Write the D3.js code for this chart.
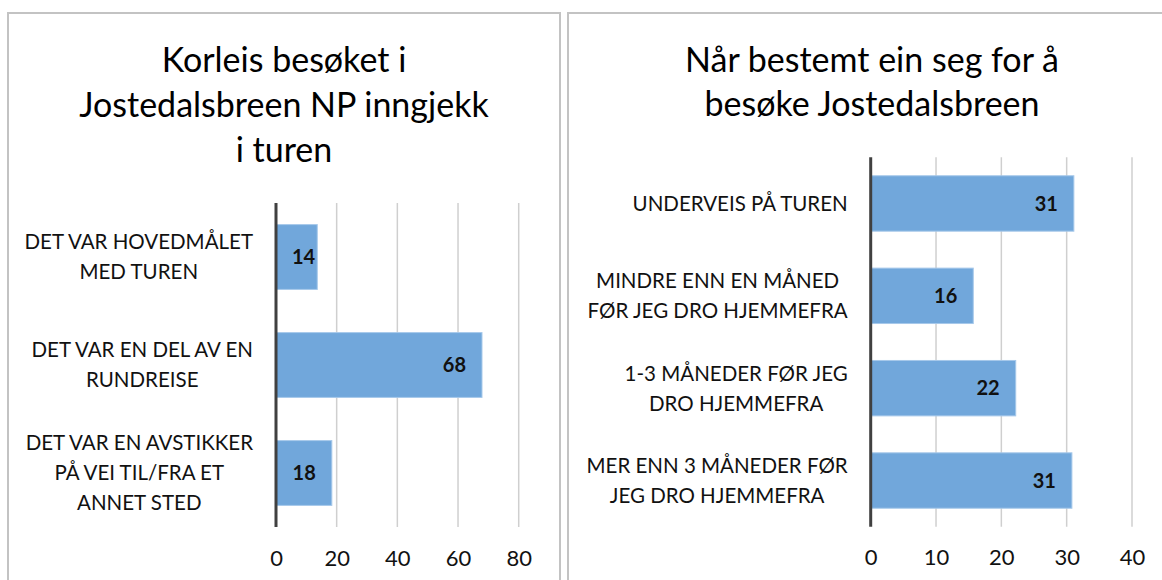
<!DOCTYPE html>
<html>
<head>
<meta charset="utf-8">
<script src="https://d3js.org/d3.v7.min.js"></script>
<style>
  body { margin: 0; background: #fff; }
  text { font-family: Lato, "Open Sans", sans-serif; }
</style>
</head>
<body>
<div id="mainer"></div>
<script>
// left chart
let leftTitle = ["Korleis besøket i", "Jostedalsbreen NP inngjekk", "i turen"];
let leftCats = [
  ["DET VAR HOVEDMÅLET", "MED TUREN"],
  ["DET VAR EN DEL AV EN", "RUNDREISE"],
  ["DET VAR EN AVSTIKKER", "PÅ VEI TIL/FRA ET", "ANNET STED"]
];
let leftValues = [13.6, 67.9, 18.4];
let leftTicks = [0, 20, 40, 60, 80];

// right chart
let rightTitle = ["Når bestemt ein seg for å", "besøke Jostedalsbreen"];
let rightCats = [
  ["UNDERVEIS PÅ TUREN"],
  ["MINDRE ENN EN MÅNED", "FØR JEG DRO HJEMMEFRA"],
  ["1-3 MÅNEDER FØR JEG", "DRO HJEMMEFRA"],
  ["MER ENN 3 MÅNEDER FØR", "JEG DRO HJEMMEFRA"]
];
let rightValues = [31.1, 15.7, 22.2, 30.8];
let rightTicks = [0, 10, 20, 30, 40];

let width = 1162;
let height = 580;
let svg = d3.select("#mainer")
  .append("svg")
  .attr("width", width)
  .attr("height", height);

// panel frames
svg.append("rect")
  .attr("x", 8).attr("y", 13).attr("width", 552).attr("height", 620)
  .attr("fill", "none").attr("stroke", "#c3c3c3").attr("stroke-width", 2);
svg.append("rect")
  .attr("x", 568).attr("y", 13).attr("width", 640).attr("height", 620)
  .attr("fill", "none").attr("stroke", "#c3c3c3").attr("stroke-width", 2);

function drawChart(cfg) {
  let g = svg.append("g");
  let x = d3.scaleLinear().domain([0, cfg.ticks[cfg.ticks.length - 1]]).range([cfg.x0, cfg.x1]);
  let y = d3.scaleBand().domain(d3.range(cfg.cats.length)).range([cfg.y0, cfg.y1]).paddingInner(0.4).paddingOuter(0.2);

  // title
  g.append("text")
    .attr("text-anchor", "middle")
    .attr("font-size", 34)
    .attr("fill", "#000")
    .selectAll("tspan")
    .data(cfg.title)
    .join("tspan")
    .attr("x", cfg.titleX)
    .attr("y", (d, i) => cfg.titleY + i * cfg.titleStep)
    .text(d => d);

  // gridlines
  g.selectAll(".grid")
    .data(cfg.ticks.slice(1))
    .join("line")
    .attr("x1", d => x(d)).attr("x2", d => x(d))
    .attr("y1", cfg.y0).attr("y2", cfg.y1)
    .attr("stroke", "#cfcfcf").attr("stroke-width", 1.5);

  // x axis labels
  let xAxis = d3.axisBottom(x).tickValues(cfg.ticks).tickSize(0).tickPadding(0);
  let ax = g.append("g")
    .attr("transform", `translate(0,${cfg.y1 + 31})`)
    .call(xAxis);
  ax.select(".domain").remove();
  ax.selectAll("text")
    .attr("font-size", 22)
    .attr("font-family", "Lato, sans-serif")
    .attr("fill", "#111")
    .attr("dy", "0.35em")
    .attr("y", 0);

  // bars
  g.selectAll(".bar")
    .data(cfg.values)
    .join("rect")
    .attr("x", x(0))
    .attr("y", (d, i) => y(i))
    .attr("width", d => x(d) - x(0))
    .attr("height", y.bandwidth())
    .attr("fill", "#71a7db")
    .attr("stroke", "#a6c8ea")
    .attr("stroke-width", 1);

  // value labels
  g.selectAll(".val")
    .data(cfg.values)
    .join("text")
    .attr("text-anchor", "end")
    .attr("font-size", 20)
    .attr("font-weight", "bold")
    .attr("fill", "#111")
    .attr("dy", "0.36em")
    .attr("y", (d, i) => y(i) + y.bandwidth() / 2)
    .text(d => d3.format(".0f")(d))
    .attr("x", function(d) {
      let w = this.getComputedTextLength();
      return Math.max(x(d) - 16, x(0) + w + 16);
    });

  // category labels, lines centred inside a right-aligned block
  let lineH = 30;
  cfg.cats.forEach(function(lines, i) {
    let t = g.append("text")
      .attr("text-anchor", "middle")
      .attr("font-size", 20.5)
      .attr("fill", "#111");
    let cy = y(i) + y.bandwidth() / 2;
    let spans = t.selectAll("tspan")
      .data(lines)
      .join("tspan")
      .attr("y", (d, j) => cy + (j - (lines.length - 1) / 2) * lineH)
      .attr("dy", "0.36em")
      .text(d => d);
    let maxW = d3.max(spans.nodes(), n => n.getComputedTextLength());
    spans.attr("x", cfg.x0 - 23 - maxW / 2);
  });

  // vertical axis line
  g.append("line")
    .attr("x1", x(0)).attr("x2", x(0))
    .attr("y1", cfg.y0).attr("y2", cfg.y1)
    .attr("stroke", "#404040").attr("stroke-width", 3);
}

drawChart({
  title: leftTitle, titleX: 284, titleY: 72, titleStep: 45,
  cats: leftCats, values: leftValues, ticks: leftTicks,
  x0: 276, x1: 518.7, y0: 203, y1: 527
});
drawChart({
  title: rightTitle, titleX: 872, titleY: 72, titleStep: 44,
  cats: rightCats, values: rightValues, ticks: rightTicks,
  x0: 870.7, x1: 1132, y0: 157.3, y1: 526.7
});
</script>
</body>
</html>
